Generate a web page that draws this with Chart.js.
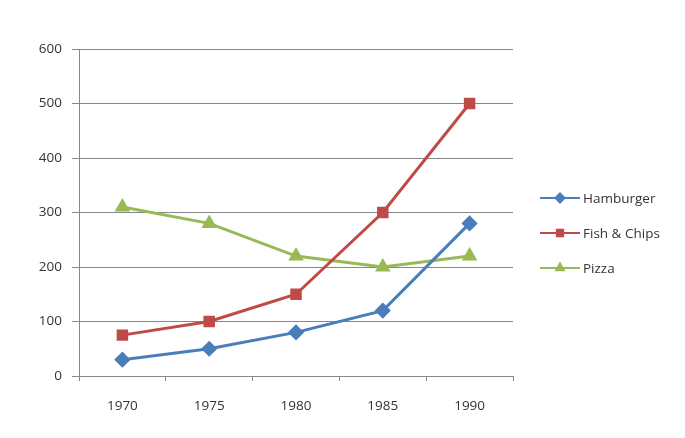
<!DOCTYPE html>
<html>
<head>
<meta charset="utf-8">
<script src="https://cdn.jsdelivr.net/npm/chart.js@4/dist/chart.umd.min.js"></script>
<style>
  html, body { margin: 0; padding: 0; background: #fff; }
  #wrap { width: 685px; height: 438px; }
</style>
</head>
<body>
<div id="wrap"><canvas id="grafico"></canvas></div>
<script>
const years = ['1970', '1975', '1980', '1985', '1990'];
const hamburger = [30, 50, 80, 120, 280];
const fishChips = [75, 100, 150, 300, 500];
const pizza = [310, 280, 220, 200, 220];
const yTicks = [0, 100, 200, 300, 400, 500, 600];

const gridColor = '#868686';
const textColor = '#333333';

// legend drawn by hand so each entry shows line + marker like Excel
const sideLegend = {
    id: 'sideLegend',
    afterDraw(chart) {
        const ctx = chart.ctx;
        const x0 = 540, x1 = 580, top = 198, step = 35;
        ctx.save();
        chart.data.datasets.forEach(function (ds, i) {
            const y = top + i * step;
            ctx.strokeStyle = ds.borderColor;
            ctx.lineWidth = 2;
            ctx.beginPath();
            ctx.moveTo(x0, y);
            ctx.lineTo(x1, y);
            ctx.stroke();
            ctx.fillStyle = ds.borderColor;
            Chart.helpers.drawPoint(ctx, {
                pointStyle: ds.pointStyle,
                radius: 4.5,
                rotation: 0,
                borderWidth: 1
            }, (x0 + x1) / 2, y);
            ctx.fillStyle = textColor;
            ctx.font = '13.5px "Open Sans"';
            ctx.textBaseline = 'middle';
            ctx.textAlign = 'left';
            ctx.fillText(ds.label, x1 + 3, y + 1);
        });
        ctx.restore();
    }
};

function serie(label, data, color, style, radius) {
    return {
        label: label,
        data: data,
        borderColor: color,
        backgroundColor: color,
        pointBackgroundColor: color,
        pointBorderColor: color,
        pointStyle: style,
        pointRadius: radius,
        pointHoverRadius: radius,
        borderWidth: 3,
        tension: 0
    };
}

new Chart(document.getElementById('grafico').getContext('2d'), {
    type: 'line',
    data: {
        labels: years,
        datasets: [
            serie('Hamburger', hamburger, '#4a7ebb', 'rectRot', 6),
            serie('Fish & Chips', fishChips, '#be4b48', 'rect', 6),
            serie('Pizza', pizza, '#98b954', 'triangle', 6)
        ]
    },
    options: {
        responsive: true,
        maintainAspectRatio: false,
        animation: false,
        layout: { padding: { left: 0, top: 49, right: 172, bottom: 0 } },
        plugins: {
            legend: { display: false },
            tooltip: { enabled: false }
        },
        scales: {
            x: {
                offset: true,
                grid: {
                    display: true,
                    drawOnChartArea: false,
                    drawTicks: true,
                    tickLength: 5,
                    offset: true,
                    color: gridColor
                },
                border: { color: gridColor, width: 1 },
                ticks: {
                    color: textColor,
                    font: { family: 'Open Sans', size: 13.5 },
                    padding: 17
                },
                afterFit: function (scale) { scale.height = 62; }
            },
            y: {
                min: 0,
                max: 600,
                afterBuildTicks: function (scale) {
                    scale.ticks = yTicks.map(function (v) { return { value: v }; });
                },
                grid: {
                    color: gridColor,
                    lineWidth: 1,
                    drawTicks: true,
                    tickLength: 7
                },
                border: { color: gridColor, width: 1 },
                ticks: {
                    color: textColor,
                    font: { family: 'Open Sans', size: 13.5 },
                    padding: 10
                },
                afterFit: function (scale) { scale.width = 79; }
            }
        }
    },
    plugins: [sideLegend]
});
</script>
</body>
</html>
